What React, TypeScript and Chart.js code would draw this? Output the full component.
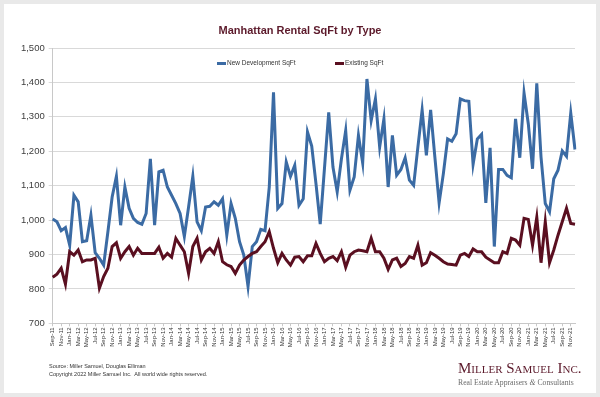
import React, { useEffect, useRef } from "react";
import { Chart, registerables } from "chart.js";

Chart.register(...registerables);

const monthLabels: string[] = [
  "Sep-11", "Oct-11", "Nov-11", "Dec-11",
  "Jan-12", "Feb-12", "Mar-12", "Apr-12", "May-12", "Jun-12", "Jul-12", "Aug-12", "Sep-12", "Oct-12", "Nov-12", "Dec-12",
  "Jan-13", "Feb-13", "Mar-13", "Apr-13", "May-13", "Jun-13", "Jul-13", "Aug-13", "Sep-13", "Oct-13", "Nov-13", "Dec-13",
  "Jan-14", "Feb-14", "Mar-14", "Apr-14", "May-14", "Jun-14", "Jul-14", "Aug-14", "Sep-14", "Oct-14", "Nov-14", "Dec-14",
  "Jan-15", "Feb-15", "Mar-15", "Apr-15", "May-15", "Jun-15", "Jul-15", "Aug-15", "Sep-15", "Oct-15", "Nov-15", "Dec-15",
  "Jan-16", "Feb-16", "Mar-16", "Apr-16", "May-16", "Jun-16", "Jul-16", "Aug-16", "Sep-16", "Oct-16", "Nov-16", "Dec-16",
  "Jan-17", "Feb-17", "Mar-17", "Apr-17", "May-17", "Jun-17", "Jul-17", "Aug-17", "Sep-17", "Oct-17", "Nov-17", "Dec-17",
  "Jan-18", "Feb-18", "Mar-18", "Apr-18", "May-18", "Jun-18", "Jul-18", "Aug-18", "Sep-18", "Oct-18", "Nov-18", "Dec-18",
  "Jan-19", "Feb-19", "Mar-19", "Apr-19", "May-19", "Jun-19", "Jul-19", "Aug-19", "Sep-19", "Oct-19", "Nov-19", "Dec-19",
  "Jan-20", "Feb-20", "Mar-20", "Apr-20", "May-20", "Jun-20", "Jul-20", "Aug-20", "Sep-20", "Oct-20", "Nov-20", "Dec-20",
  "Jan-21", "Feb-21", "Mar-21", "Apr-21", "May-21", "Jun-21", "Jul-21", "Aug-21", "Sep-21", "Oct-21", "Nov-21", "Dec-21",
];

const newDevelopmentSqFt: number[] = [
  1003, 995, 969, 978, 927, 1072, 1053, 937, 940, 1014, 905, 889, 869, 966, 1067, 1127, 985, 1096, 1034, 1005, 993,
  988, 1019, 1178, 985, 1140, 1145, 1096, 1072, 1048, 1019, 952, 1038, 1127, 995, 969, 1038, 1040, 1053, 1043, 1062, 956,
  1048, 1005, 937, 898, 807, 923, 937, 973, 969, 1096, 1371, 1034, 1048, 1169, 1127, 1159, 1043, 1062, 1256, 1215, 1106,
  988, 1150, 1313, 1154, 1082, 1178, 1260, 1087, 1125, 1246, 1166, 1410, 1289, 1352, 1212, 1294, 1096, 1246, 1130, 1147,
  1181, 1116, 1101, 1212, 1320, 1188, 1320, 1183, 1050, 1135, 1236, 1229, 1251, 1352, 1347, 1345, 1162, 1236, 1249, 1050, 1210,
  923, 1147, 1147, 1130, 1123, 1294, 1181, 1369, 1280, 1149, 1397, 1183, 1048, 1024, 1120, 1145, 1201, 1185, 1311, 1205,
];

const existingSqFt: number[] = [
  834, 843, 860, 814, 908, 898, 913, 879, 884, 884, 889, 802, 836, 860, 923, 934, 889, 908, 923, 898, 918,
  903, 903, 903, 903, 921, 889, 903, 892, 947, 927, 908, 845, 923, 947, 884, 908, 918, 903, 937, 879, 870,
  865, 845, 869, 884, 894, 903, 908, 923, 937, 966, 918, 876, 903, 884, 869, 892, 894, 879, 896, 896, 932,
  903, 879, 889, 894, 882, 908, 863, 898, 908, 913, 911, 908, 947, 908, 908, 889, 857, 884, 889, 865,
  874, 894, 889, 927, 869, 876, 905, 898, 889, 879, 872, 871, 869, 898, 903, 894, 916, 908, 908, 892, 884,
  876, 876, 908, 903, 947, 942, 927, 1005, 1002, 927, 1008, 876, 995, 876, 913, 956, 995, 1034, 990, 988,
];

const seriesNames: string[] = ["New Development SqFt", "Existing SqFt"];

const BLUE = "#3b6ba4";
const MAROON = "#5a0f20";
const TITLE_COLOR = "#5c1a2b";

export default function App() {
  const canvasRef = useRef<HTMLCanvasElement>(null);

  useEffect(() => {
    if (!canvasRef.current) return;
    const chart = new Chart(canvasRef.current, {
      type: "line",
      data: {
        labels: monthLabels,
        datasets: [
          {
            label: seriesNames[0],
            data: newDevelopmentSqFt,
            borderColor: BLUE,
            backgroundColor: BLUE,
            borderWidth: 3,
            pointRadius: 0,
            tension: 0,
            order: 1,
          },
          {
            label: seriesNames[1],
            data: existingSqFt,
            borderColor: MAROON,
            backgroundColor: MAROON,
            borderWidth: 3,
            pointRadius: 0,
            tension: 0,
            order: 0,
          },
        ],
      },
      options: {
        responsive: false,
        animation: false,
        layout: { padding: { left: 0, top: 48, right: 25, bottom: 43.7 } },
        plugins: {
          legend: { display: false },
          title: { display: false },
          tooltip: { enabled: false },
        },
        scales: {
          x: {
            type: "category",
            offset: false,
            grid: {
              display: true,
              drawOnChartArea: false,
              drawTicks: true,
              tickLength: 3,
              color: "#c8c8c8",
            },
            border: { display: true, color: "#c8c8c8" },
            ticks: {
              autoSkip: false,
              maxRotation: 90,
              minRotation: 90,
              padding: 1,
              color: "#333333",
              font: { size: 6, family: "'Liberation Sans', Arial, sans-serif" },
              callback: (value: any) => {
                const i = Number(value);
                return i % 2 === 0 ? monthLabels[i] : null;
              },
            },
            afterFit: (scale: any) => {
              scale.height = 30;
            },
          },
          y: {
            min: 700,
            max: 1500,
            grid: { color: "#d9d9d9", lineWidth: 1, tickLength: 4 },
            border: { display: true, color: "#c8c8c8" },
            ticks: {
              stepSize: 100,
              padding: 4,
              color: "#404040",
              font: { size: 9.5, family: "'Liberation Sans', Arial, sans-serif" },
              callback: (value: any) => Number(value).toLocaleString("en-US"),
            },
            afterFit: (scale: any) => {
              scale.width = 52.7;
            },
          },
        },
      },
    });
    return () => chart.destroy();
  }, []);

  const sans = "'Liberation Sans', Arial, sans-serif";
  const serif = "'Liberation Serif', 'Times New Roman', serif";

  return (
    <div
      style={{
        position: "fixed",
        left: 0,
        top: 0,
        width: 600,
        height: 397,
        background: "#e9e9e9",
        overflow: "hidden",
      }}
    >
      <div
        style={{
          position: "absolute",
          left: 4,
          top: 4,
          width: 592,
          height: 389,
          background: "#ffffff",
        }}
      />
      <canvas
        ref={canvasRef}
        width={600}
        height={397}
        style={{ position: "absolute", left: 0, top: 0, width: 600, height: 397 }}
      />
      <div
        style={{
          position: "absolute",
          left: 0,
          top: 24,
          width: 600,
          textAlign: "center",
          fontFamily: sans,
          fontWeight: "bold",
          fontSize: 11,
          lineHeight: "13px",
          color: TITLE_COLOR,
        }}
      >
        Manhattan Rental SqFt by Type
      </div>
      {/* legend */}
      <div style={{ position: "absolute", left: 217, top: 61.5, width: 9, height: 3, background: BLUE }} />
      <div
        style={{
          position: "absolute",
          left: 227,
          top: 59,
          fontFamily: sans,
          fontSize: 6.5,
          lineHeight: "8px",
          color: "#333",
          whiteSpace: "nowrap",
        }}
      >
        {seriesNames[0]}
      </div>
      <div style={{ position: "absolute", left: 335, top: 61.5, width: 9, height: 3, background: MAROON }} />
      <div
        style={{
          position: "absolute",
          left: 345,
          top: 59,
          fontFamily: sans,
          fontSize: 6.5,
          lineHeight: "8px",
          color: "#333",
          whiteSpace: "nowrap",
        }}
      >
        {seriesNames[1]}
      </div>
      {/* footer */}
      <div
        style={{
          position: "absolute",
          left: 49,
          top: 362,
          fontFamily: sans,
          fontSize: 5.5,
          lineHeight: "8px",
          color: "#333",
          whiteSpace: "nowrap",
        }}
      >
        Source: Miller Samuel, Douglas Elliman
      </div>
      <div
        style={{
          position: "absolute",
          left: 49,
          top: 370,
          fontFamily: sans,
          fontSize: 5.5,
          lineHeight: "8px",
          color: "#333",
          whiteSpace: "pre",
        }}
      >
        {"Copyright 2022 Miller Samuel Inc.  All world wide rights reserved."}
      </div>
      {/* logo */}
      <div
        style={{
          position: "absolute",
          left: 458,
          top: 359.5,
          fontFamily: serif,
          fontVariant: "small-caps",
          fontSize: 15,
          lineHeight: "16px",
          color: TITLE_COLOR,
          whiteSpace: "nowrap",
        }}
      >
        Miller Samuel Inc.
      </div>
      <div
        style={{
          position: "absolute",
          left: 458,
          top: 378,
          fontFamily: serif,
          fontSize: 7.7,
          lineHeight: "10px",
          color: "#6b6b6b",
          whiteSpace: "nowrap",
        }}
      >
        Real Estate Appraisers <span style={{ fontStyle: "italic" }}>&amp;</span> Consultants
      </div>
    </div>
  );
}
